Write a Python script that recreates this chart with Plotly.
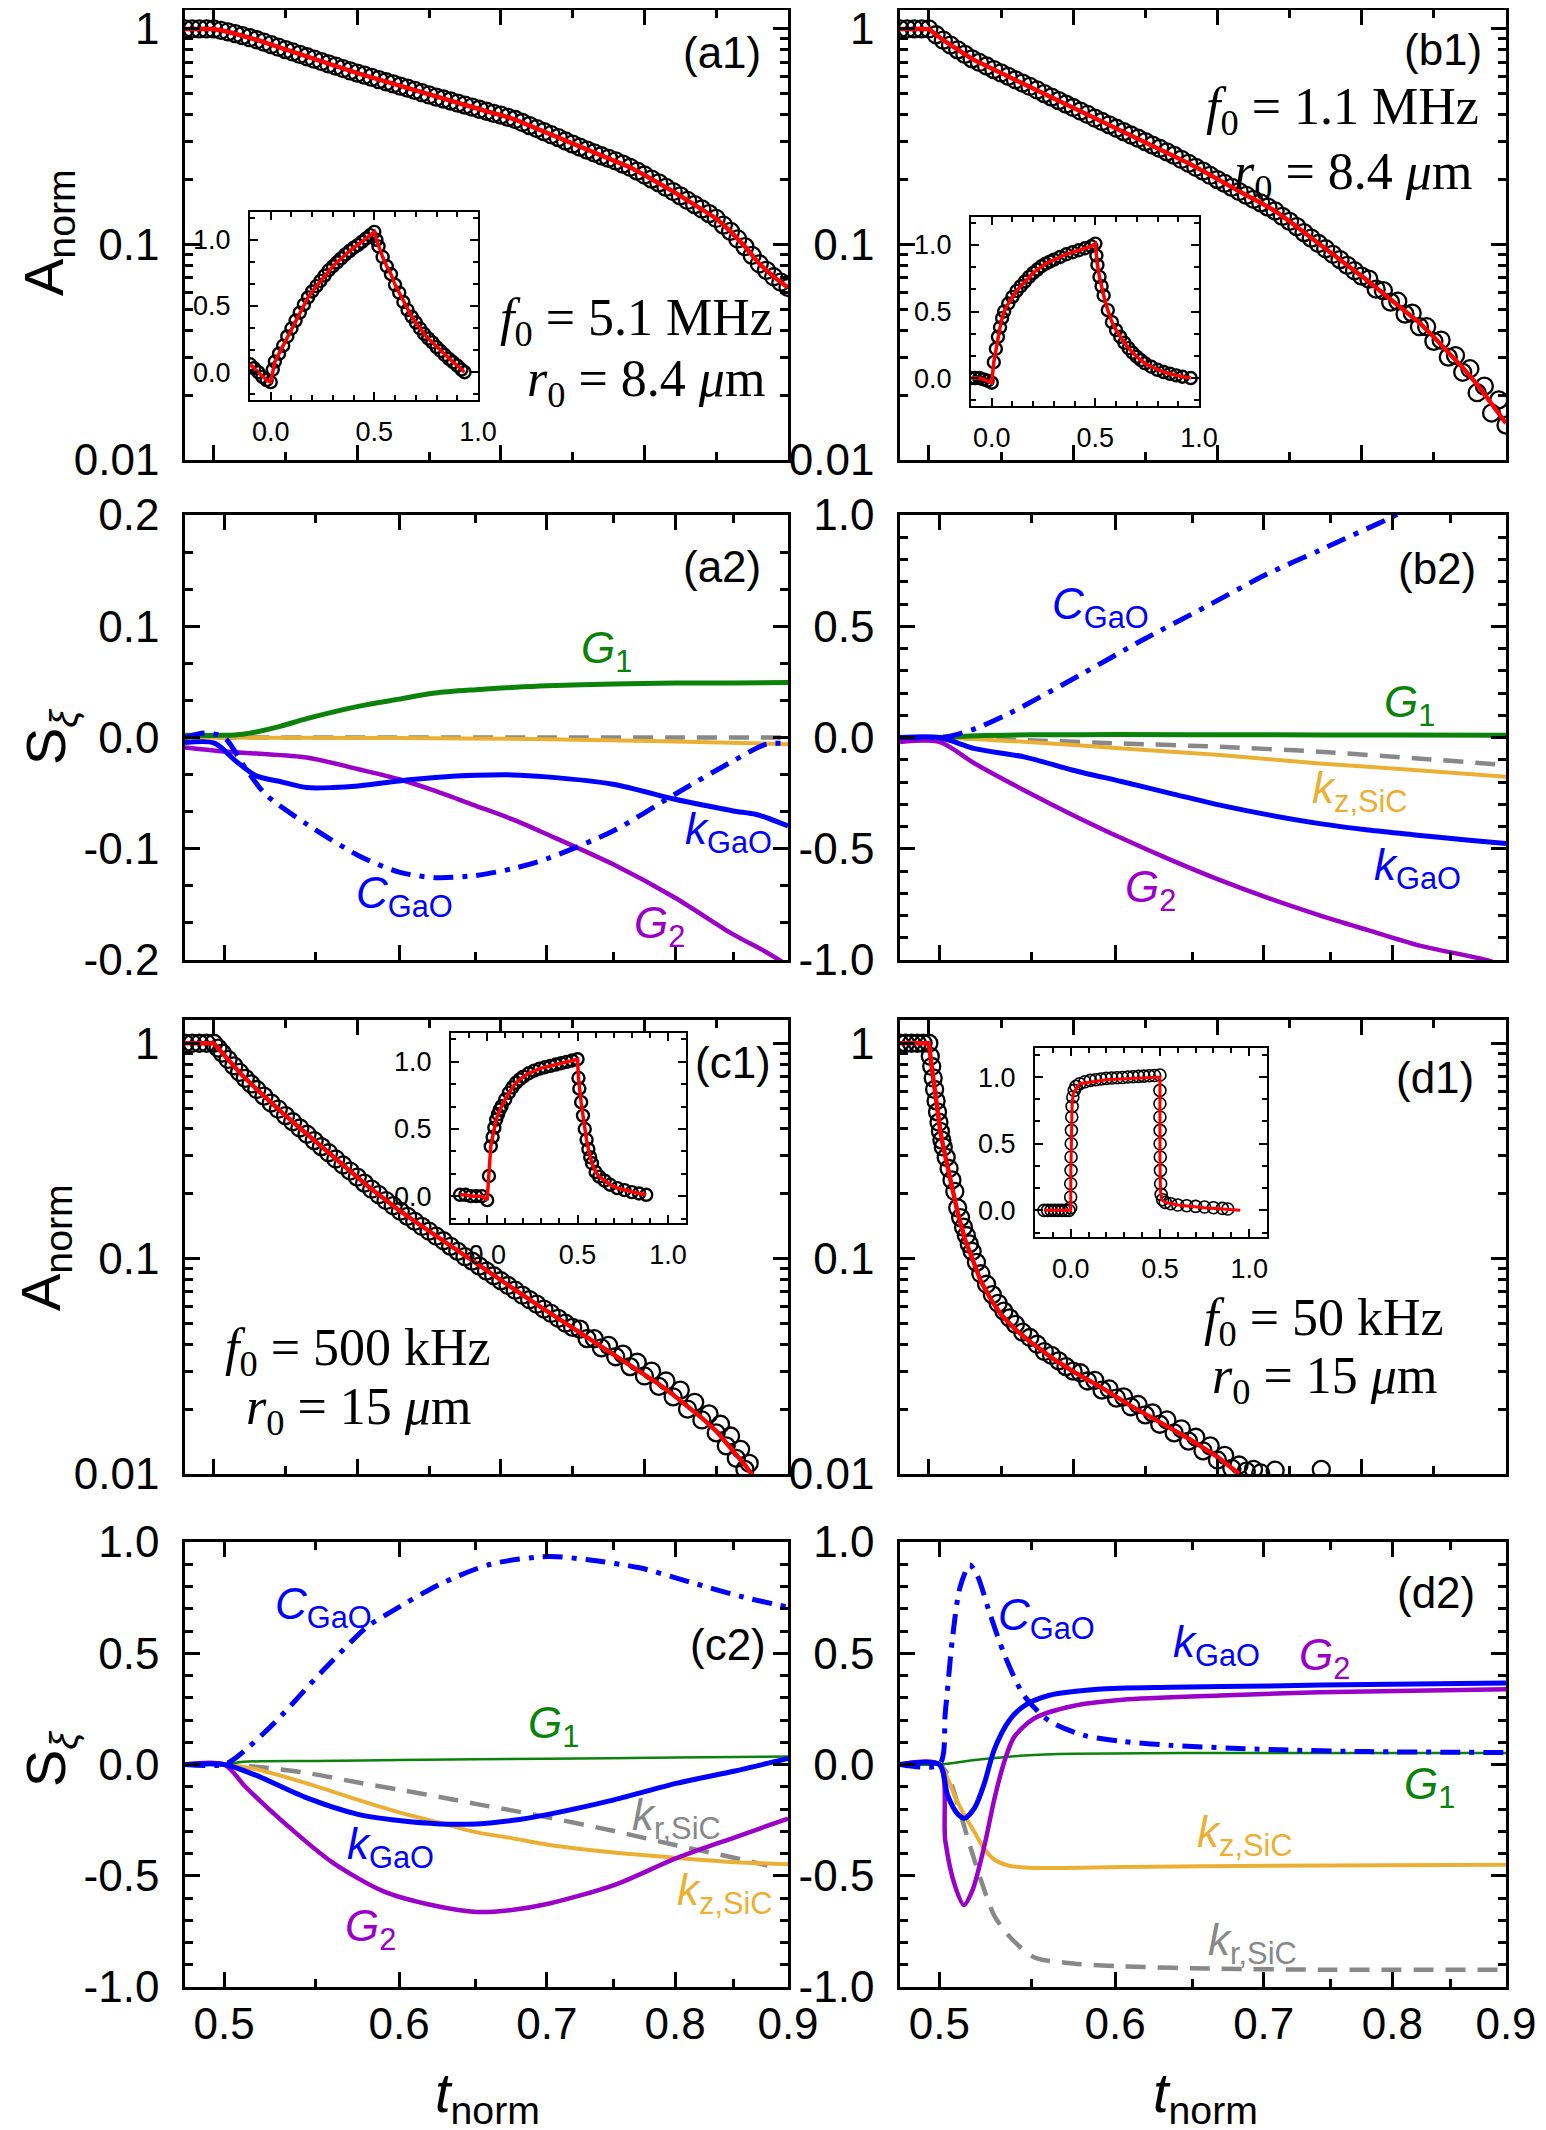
import math
import plotly.graph_objects as go

W, H = 1546, 2130
OFF = 8  # the page body adds an 8 px margin; positions are compensated for it
SANS = "Liberation Sans, Arial, sans-serif"
NARROW = "Liberation Sans Narrow, Liberation Sans, Arial, sans-serif"
SERIF = "Liberation Serif, Times New Roman, serif"

GREEN = "#0B830B"
BLUE = "#0000FF"
PURPLE = "#9A00C8"
YELLOW = "#EBB033"
GRAY = "#888888"
RED = "#FF0000"

# ------------------------------------------------------------------ data
t_fit = [0.48, 0.49, 0.50, 0.51, 0.52, 0.53, 0.54, 0.55, 0.56, 0.57, 0.58, 0.59, 0.60,
         0.61, 0.62, 0.63, 0.64, 0.65, 0.66, 0.67, 0.68, 0.69, 0.70, 0.71, 0.72, 0.73,
         0.74, 0.75, 0.76, 0.77, 0.78, 0.79, 0.80, 0.81, 0.82, 0.83, 0.84, 0.85, 0.86,
         0.87, 0.88, 0.89, 0.90]
t_dense = [0.480, 0.485, 0.490, 0.495, 0.500, 0.505, 0.510, 0.515, 0.520, 0.525, 0.530,
           0.535, 0.540, 0.545, 0.550, 0.555, 0.560, 0.565, 0.570, 0.575, 0.580, 0.585,
           0.590, 0.595, 0.600, 0.605, 0.610, 0.615, 0.620, 0.625, 0.630, 0.635, 0.640,
           0.645, 0.650, 0.655, 0.660, 0.665, 0.670, 0.675, 0.680, 0.685, 0.690, 0.695,
           0.700, 0.705, 0.710, 0.715, 0.720, 0.725, 0.730, 0.735, 0.740, 0.745, 0.750,
           0.755, 0.760, 0.765, 0.770, 0.775, 0.780, 0.785, 0.790, 0.795, 0.800, 0.805,
           0.810, 0.815, 0.820, 0.825, 0.830, 0.835, 0.840, 0.845, 0.850, 0.855, 0.860,
           0.865, 0.870, 0.875, 0.880, 0.885, 0.890, 0.895, 0.900]

# (a1) f0 = 5.1 MHz
a1_fit = [1.0, 1.0, 1.0, 0.970, 0.931, 0.891, 0.845, 0.802, 0.762, 0.724, 0.689, 0.655, 0.624,
          0.596, 0.569, 0.543, 0.519, 0.494, 0.473, 0.453, 0.434, 0.415, 0.398, 0.380, 0.356,
          0.334, 0.313, 0.292, 0.274, 0.258, 0.244, 0.228, 0.210, 0.193, 0.176, 0.160, 0.146,
          0.132, 0.115, 0.0977, 0.0813, 0.0708, 0.0631]
a1_data = [1.0, 1.0, 1.0, 1.0, 1.0, 0.986, 0.970, 0.951, 0.931, 0.911, 0.891, 0.868, 0.845,
           0.823, 0.802, 0.782, 0.762, 0.743, 0.724, 0.706, 0.689, 0.672, 0.655, 0.639, 0.624,
           0.610, 0.596, 0.582, 0.569, 0.556, 0.543, 0.531, 0.519, 0.506, 0.494, 0.483, 0.473,
           0.463, 0.453, 0.443, 0.434, 0.424, 0.415, 0.406, 0.398, 0.389, 0.380, 0.368, 0.356,
           0.345, 0.334, 0.323, 0.313, 0.302, 0.292, 0.283, 0.274, 0.266, 0.258, 0.251, 0.244,
           0.236, 0.228, 0.219, 0.210, 0.201, 0.193, 0.184, 0.176, 0.168, 0.160, 0.153, 0.146,
           0.139, 0.132, 0.123, 0.115, 0.106, 0.0977, 0.0890, 0.0813, 0.0758, 0.0708, 0.0668,
           0.0631]
# (b1) f0 = 1.1 MHz
b1_fit = [1.0, 1.0, 1.0, 0.887, 0.800, 0.726, 0.673, 0.625, 0.581, 0.541, 0.501, 0.465, 0.432,
          0.401, 0.372, 0.346, 0.322, 0.300, 0.279, 0.259, 0.238, 0.219, 0.200, 0.184, 0.169,
          0.156, 0.143, 0.128, 0.1135, 0.101, 0.090, 0.080, 0.0713, 0.0631, 0.0558, 0.0492,
          0.0433, 0.0372, 0.0316, 0.0268, 0.0224, 0.0182, 0.0148]
b1_data = [1.0, 1.0, 1.0, 1.0, 1.0, 0.94, 0.887, 0.842, 0.800, 0.762, 0.726, 0.699, 0.673,
           0.648, 0.625, 0.603, 0.581, 0.561, 0.541, 0.521, 0.501, 0.483, 0.465, 0.448, 0.432,
           0.416, 0.401, 0.386, 0.372, 0.359, 0.346, 0.334, 0.322, 0.311, 0.300, 0.289, 0.279,
           0.269, 0.259, 0.248, 0.238, 0.228, 0.219, 0.209, 0.200, 0.192, 0.184, 0.176, 0.169,
           0.162, 0.156, 0.149, 0.143, 0.135, 0.128, 0.121, 0.1135, 0.107, 0.101, 0.0955, 0.090,
           0.085, 0.080, 0.0755, 0.0713, 0.069, 0.062, 0.061, 0.054, 0.0545, 0.0475, 0.048,
           0.0415, 0.0415, 0.0355, 0.036, 0.030, 0.0305, 0.0255, 0.0265, 0.0205, 0.022, 0.0165,
           0.019, 0.0145]
# (c1) f0 = 500 kHz
c1_fit = [1.0, 1.0, 1.0, 0.841, 0.708, 0.610, 0.528, 0.461, 0.404, 0.353, 0.310, 0.272, 0.239,
          0.210, 0.186, 0.166, 0.149, 0.134, 0.121, 0.108, 0.0973, 0.0875, 0.0789, 0.0713,
          0.0644, 0.0583, 0.0528, 0.0479, 0.0432, 0.0391, 0.0355, 0.0322, 0.0291, 0.0261,
          0.0233, 0.0207, 0.0182, 0.0158, 0.0133, 0.0110, 0.0089, 0.0074, 0.0063]
c1_t = [0.480, 0.485, 0.490, 0.495, 0.500, 0.503, 0.506, 0.510, 0.514, 0.518, 0.522, 0.526,
        0.530, 0.535, 0.540, 0.545, 0.550, 0.555, 0.560, 0.565, 0.570, 0.575, 0.580, 0.585,
        0.590, 0.595, 0.600, 0.605, 0.610, 0.615, 0.620, 0.625, 0.630, 0.635, 0.640, 0.645,
        0.650, 0.655, 0.660, 0.665, 0.670, 0.675, 0.680, 0.685, 0.690, 0.695, 0.700, 0.705,
        0.710, 0.715, 0.720, 0.725, 0.730, 0.735, 0.740, 0.745, 0.750, 0.755, 0.760, 0.765,
        0.770, 0.775, 0.780, 0.785, 0.790, 0.795, 0.800, 0.805, 0.810, 0.815, 0.820, 0.825,
        0.830, 0.835, 0.840, 0.845, 0.850, 0.853, 0.857, 0.860, 0.864, 0.867, 0.870, 0.873]
c1_data = [1.0, 1.0, 1.0, 1.0, 1.0, 0.95, 0.90, 0.841, 0.785, 0.733, 0.687, 0.647, 0.610,
           0.568, 0.528, 0.494, 0.461, 0.432, 0.404, 0.378, 0.353, 0.331, 0.310, 0.290, 0.272,
           0.255, 0.239, 0.224, 0.210, 0.198, 0.186, 0.176, 0.166, 0.157, 0.149, 0.141, 0.134,
           0.127, 0.121, 0.114, 0.108, 0.102, 0.0973, 0.0923, 0.0875, 0.0832, 0.0789, 0.0750,
           0.0713, 0.0676, 0.0644, 0.0614, 0.0583, 0.0556, 0.0528, 0.0501, 0.0479, 0.0470,
           0.0425, 0.0425, 0.0385, 0.0395, 0.0350, 0.0360, 0.0315, 0.0330, 0.0285, 0.0300,
           0.0255, 0.0270, 0.0228, 0.0245, 0.0200, 0.0215, 0.0178, 0.0190, 0.0155, 0.0170,
           0.0135, 0.0150, 0.0118, 0.0130, 0.0105, 0.0112]
# (d1) f0 = 50 kHz
d1_fit_t = [0.48, 0.49, 0.50, 0.502, 0.504, 0.506, 0.508, 0.510, 0.513, 0.516, 0.520, 0.525,
            0.530, 0.536, 0.543, 0.550, 0.560, 0.570, 0.585, 0.600, 0.620, 0.640, 0.660, 0.680,
            0.700, 0.715]
d1_fit = [1.0, 1.0, 1.0, 0.776, 0.603, 0.474, 0.389, 0.330, 0.266, 0.219, 0.163, 0.123, 0.100,
          0.0785, 0.0646, 0.0550, 0.0468, 0.0412, 0.0347, 0.0299, 0.0251, 0.0207, 0.0174,
          0.0146, 0.0120, 0.0100]
d1_t = [0.480, 0.484, 0.488, 0.492, 0.496, 0.500, 0.501, 0.502, 0.503, 0.504, 0.505, 0.506,
        0.507, 0.508, 0.509, 0.510, 0.512, 0.514, 0.516, 0.518, 0.520, 0.522, 0.524, 0.526,
        0.528, 0.530, 0.533, 0.536, 0.540, 0.544, 0.548, 0.552, 0.556, 0.560, 0.565, 0.570,
        0.575, 0.580, 0.585, 0.590, 0.595, 0.600, 0.605, 0.610, 0.615, 0.620, 0.625, 0.630,
        0.635, 0.640, 0.645, 0.650, 0.655, 0.660, 0.665, 0.670, 0.675, 0.680, 0.685, 0.690,
        0.695, 0.700, 0.705, 0.710, 0.715, 0.720, 0.725, 0.730, 0.740, 0.772]
d1_data = [1.0, 1.0, 1.0, 1.0, 1.0, 1.0, 0.87, 0.78, 0.69, 0.61, 0.54, 0.48, 0.43, 0.39, 0.355,
           0.33, 0.295, 0.262, 0.232, 0.205, 0.172, 0.155, 0.140, 0.128, 0.117, 0.108, 0.096,
           0.085, 0.076, 0.068, 0.062, 0.057, 0.053, 0.0495, 0.0455, 0.043, 0.040, 0.037,
           0.0355, 0.0335, 0.0315, 0.030, 0.0295, 0.027, 0.0272, 0.0245, 0.0248, 0.0225,
           0.0228, 0.0205, 0.021, 0.0188, 0.0192, 0.0170, 0.0178, 0.0155, 0.0162, 0.0142,
           0.0148, 0.0128, 0.0135, 0.0116, 0.0122, 0.0106, 0.0110, 0.0103, 0.0105, 0.0101,
           0.0104, 0.0105]

# insets (full-period transients)
a1_in_x = [-0.10, -0.08, -0.06, -0.04, -0.02, 0.0, 0.01, 0.02, 0.04, 0.06, 0.08, 0.10, 0.12,
           0.14, 0.16, 0.18, 0.20, 0.22, 0.24, 0.26, 0.28, 0.30, 0.32, 0.34, 0.36, 0.38, 0.40,
           0.42, 0.44, 0.46, 0.48, 0.50, 0.51, 0.52, 0.54, 0.56, 0.58, 0.60, 0.62, 0.64, 0.66,
           0.68, 0.70, 0.72, 0.74, 0.76, 0.78, 0.80, 0.82, 0.84, 0.86, 0.88, 0.90, 0.92, 0.935]
a1_in_y = [0.06, 0.03, 0.0, -0.035, -0.06, -0.075, 0.02, 0.08, 0.14, 0.20, 0.27, 0.33, 0.39,
           0.45, 0.51, 0.565, 0.61, 0.65, 0.69, 0.73, 0.77, 0.80, 0.83, 0.86, 0.89, 0.915, 0.94,
           0.96, 0.985, 1.01, 1.035, 1.06, 1.0, 0.95, 0.87, 0.80, 0.74, 0.66, 0.60, 0.53, 0.47,
           0.42, 0.375, 0.33, 0.29, 0.255, 0.225, 0.19, 0.16, 0.13, 0.10, 0.075, 0.05, 0.02, 0.0]
b1_in_x = [-0.10, -0.08, -0.06, -0.04, -0.02, 0.0, 0.01, 0.02, 0.03, 0.04, 0.05, 0.06, 0.08,
           0.10, 0.12, 0.14, 0.16, 0.18, 0.20, 0.22, 0.24, 0.26, 0.28, 0.30, 0.33, 0.36, 0.39,
           0.42, 0.45, 0.48, 0.50, 0.505, 0.51, 0.52, 0.53, 0.54, 0.56, 0.58, 0.60, 0.62, 0.64,
           0.66, 0.68, 0.70, 0.72, 0.74, 0.77, 0.80, 0.83, 0.86, 0.89, 0.92, 0.96]
b1_in_y = [0.0, 0.0, 0.0, -0.01, -0.02, -0.035, 0.12, 0.22, 0.31, 0.38, 0.45, 0.50, 0.56, 0.61,
           0.655, 0.69, 0.725, 0.76, 0.79, 0.815, 0.84, 0.86, 0.875, 0.89, 0.91, 0.93, 0.945,
           0.96, 0.975, 0.99, 1.01, 0.92, 0.85, 0.76, 0.69, 0.62, 0.51, 0.42, 0.36, 0.31, 0.265,
           0.225, 0.19, 0.16, 0.135, 0.11, 0.085, 0.062, 0.045, 0.032, 0.02, 0.01, 0.0]
c1_in_x = [-0.15, -0.12, -0.09, -0.06, -0.03, 0.0, 0.01, 0.02, 0.03, 0.04, 0.05, 0.06, 0.07,
           0.08, 0.10, 0.12, 0.14, 0.16, 0.18, 0.20, 0.23, 0.26, 0.29, 0.32, 0.35, 0.38, 0.41,
           0.44, 0.47, 0.50, 0.505, 0.51, 0.52, 0.53, 0.54, 0.55, 0.56, 0.57, 0.58, 0.60, 0.62,
           0.65, 0.68, 0.72, 0.76, 0.80, 0.84, 0.88]
c1_in_y = [0.01, 0.01, 0.0, 0.0, 0.0, -0.03, 0.15, 0.37, 0.44, 0.51, 0.57, 0.61, 0.645, 0.67,
           0.72, 0.77, 0.81, 0.845, 0.87, 0.89, 0.915, 0.935, 0.95, 0.96, 0.97, 0.98, 0.99, 1.0,
           1.01, 1.02, 0.88, 0.80, 0.70, 0.60, 0.50, 0.42, 0.35, 0.29, 0.245, 0.18, 0.145,
           0.115, 0.085, 0.06, 0.045, 0.03, 0.02, 0.01]
d1_in_x = [-0.15, -0.13, -0.11, -0.09, -0.07, -0.05, -0.03, -0.01, 0.0, 0.0, 0.0, 0.002, 0.002,
           0.003, 0.004, 0.006, 0.008, 0.012, 0.02, 0.03, 0.05, 0.08, 0.11, 0.14, 0.17, 0.20,
           0.23, 0.26, 0.29, 0.32, 0.35, 0.38, 0.41, 0.44, 0.47, 0.50, 0.50, 0.50, 0.50, 0.501,
           0.501, 0.502, 0.503, 0.504, 0.507, 0.515, 0.53, 0.56, 0.60, 0.65, 0.70, 0.75, 0.80,
           0.85, 0.88]
d1_in_y = [0.0, 0.0, 0.0, 0.0, 0.0, 0.0, 0.0, 0.0, 0.02, 0.1, 0.2, 0.3, 0.4, 0.5, 0.6, 0.7,
           0.78, 0.85, 0.90, 0.93, 0.95, 0.965, 0.975, 0.98, 0.985, 0.99, 0.993, 0.995, 0.997,
           1.0, 1.002, 1.005, 1.007, 1.01, 1.012, 1.015, 0.9, 0.8, 0.7, 0.6, 0.5, 0.4, 0.3, 0.2,
           0.12, 0.08, 0.06, 0.05, 0.04, 0.035, 0.03, 0.025, 0.02, 0.015, 0.01]
d1_in_fit_x = [-0.15, 0.0, 0.001, 0.003, 0.008, 0.015, 0.05, 0.2, 0.5, 0.5, 0.503, 0.51, 0.53,
               0.6, 0.75, 0.95]
d1_in_fit_y = [0.0, 0.0, 0.3, 0.6, 0.8, 0.88, 0.95, 0.98, 1.0, 0.4, 0.15, 0.08, 0.06, 0.04,
               0.02, 0.0]

# sensitivities (a2)
a2 = {
    "G1": ([0.48, 0.50, 0.51, 0.517, 0.53, 0.545, 0.575, 0.60, 0.623, 0.65, 0.675, 0.70, 0.75,
            0.80, 0.85, 0.90],
           [0.002, 0.002, 0.003, 0.005, 0.010, 0.017, 0.028, 0.0345, 0.040, 0.043, 0.045,
            0.0465, 0.048, 0.049, 0.049, 0.0495]),
    "kz": ([0.48, 0.60, 0.70, 0.80, 0.90], [0.0, -0.0005, -0.0015, -0.0035, -0.006]),
    "kr": ([0.48, 0.60, 0.70, 0.80, 0.90], [0.0, 0.0, 0.0, 0.0, 0.0]),
    "G2": ([0.48, 0.50, 0.517, 0.545, 0.575, 0.60, 0.623, 0.65, 0.675, 0.70, 0.75, 0.80, 0.85,
            0.88, 0.90],
           [-0.009, -0.0126, -0.0144, -0.018, -0.0285, -0.0375, -0.048, -0.0614, -0.0734,
            -0.087, -0.114, -0.144, -0.177, -0.193, -0.205]),
    "kG": ([0.48, 0.495, 0.506, 0.517, 0.531, 0.545, 0.56, 0.575, 0.60, 0.623, 0.65, 0.675,
            0.70, 0.75, 0.80, 0.83, 0.85, 0.87, 0.88, 0.90],
           [-0.0045, -0.005, -0.021, -0.0345, -0.040, -0.045, -0.045, -0.0435, -0.039, -0.036,
            -0.034, -0.0336, -0.0354, -0.042, -0.0555, -0.062, -0.066, -0.069, -0.072, -0.0795]),
    "CG": ([0.48, 0.49, 0.50, 0.511, 0.522, 0.545, 0.575, 0.60, 0.623, 0.65, 0.675, 0.70, 0.75,
            0.80, 0.85, 0.88, 0.90],
           [0.0, 0.004, 0.0, -0.027, -0.051, -0.078, -0.106, -0.121, -0.126, -0.124, -0.118,
            -0.109, -0.084, -0.051, -0.021, -0.006, -0.0055]),
}
# sensitivities (b2)
b2 = {
    "CG": ([0.48, 0.50, 0.505, 0.519, 0.5376, 0.5803, 0.617, 0.659, 0.701, 0.742, 0.80, 0.81],
           [0.0, 0.0, 0.005, 0.04, 0.108, 0.288, 0.437, 0.587, 0.730, 0.842, 0.992, 1.02]),
    "G1": ([0.48, 0.50, 0.52, 0.55, 0.60, 0.70, 0.80, 0.90],
           [0.0, 0.0, 0.008, 0.012, 0.013, 0.012, 0.011, 0.010]),
    "kz": ([0.48, 0.50, 0.5459, 0.6046, 0.669, 0.7418, 0.821, 0.90],
           [0.0, 0.0, -0.0195, -0.049, -0.079, -0.117, -0.147, -0.177]),
    "kr": ([0.48, 0.50, 0.5459, 0.6046, 0.669, 0.7418, 0.821, 0.90],
           [0.0, 0.0, -0.012, -0.027, -0.042, -0.064, -0.094, -0.124]),
    "kG": ([0.48, 0.50, 0.5187, 0.5459, 0.5744, 0.6046, 0.636, 0.669, 0.7045, 0.7418, 0.780,
            0.821, 0.864, 0.90],
           [0.0, 0.0, -0.05, -0.087, -0.147, -0.199, -0.252, -0.304, -0.349, -0.387, -0.416,
            -0.439, -0.461, -0.476]),
    "G2": ([0.48, 0.50, 0.5187, 0.5459, 0.5744, 0.6046, 0.636, 0.669, 0.7045, 0.7418, 0.780,
            0.821, 0.8818, 0.90],
           [-0.02, -0.02, -0.117, -0.237, -0.349, -0.454, -0.551, -0.641, -0.724, -0.799,
            -0.866, -0.933, -1.0, -1.03]),
}
# sensitivities (c2)
c2 = {
    "CG": ([0.48, 0.50, 0.5085, 0.5278, 0.5537, 0.5811, 0.5936, 0.626, 0.660, 0.701, 0.7306,
            0.771, 0.813, 0.858, 0.90],
           [0.0, 0.0, 0.046, 0.195, 0.418, 0.623, 0.68, 0.81, 0.90, 0.935, 0.92, 0.884, 0.819,
            0.754, 0.707]),
    "G1": ([0.48, 0.50, 0.51, 0.55, 0.60, 0.70, 0.80, 0.90],
           [0.0, 0.0, 0.012, 0.016, 0.020, 0.026, 0.031, 0.036]),
    "kG": ([0.48, 0.50, 0.5167, 0.545, 0.5749, 0.60, 0.626, 0.6506, 0.6747, 0.701, 0.7507,
            0.8017, 0.8516, 0.90],
           [0.0, 0.0, -0.048, -0.15, -0.224, -0.252, -0.267, -0.267, -0.252, -0.224, -0.159,
            -0.084, -0.029, 0.027]),
    "kz": ([0.48, 0.50, 0.5167, 0.545, 0.5749, 0.60, 0.626, 0.6506, 0.6747, 0.701, 0.7507,
            0.8017, 0.8516, 0.90],
           [0.0, 0.0, -0.02, -0.085, -0.159, -0.215, -0.262, -0.305, -0.331, -0.361, -0.396,
            -0.42, -0.439, -0.448]),
    "kr": ([0.48, 0.50, 0.5167, 0.545, 0.5749, 0.60, 0.626, 0.6506, 0.6747, 0.701, 0.7507,
            0.8017, 0.8516, 0.881],
           [0.0, 0.0, -0.01, -0.038, -0.081, -0.113, -0.146, -0.178, -0.206, -0.238, -0.299,
            -0.364, -0.42, -0.454]),
    "G2": ([0.48, 0.50, 0.5112, 0.5306, 0.5597, 0.5904, 0.623, 0.6506, 0.6747, 0.701, 0.7507,
            0.8017, 0.8516, 0.90],
           [0.0, 0.0, -0.10, -0.25, -0.44, -0.57, -0.635, -0.663, -0.654, -0.626, -0.542,
            -0.42, -0.327, -0.243]),
}
# sensitivities (d2)
d2 = {
    "CG": ([0.48, 0.50, 0.5031, 0.5069, 0.5108, 0.516, 0.52, 0.5267, 0.5348, 0.5459, 0.560,
            0.5803, 0.6046, 0.636, 0.7045, 0.78, 0.90],
           [0.0, 0.0, 0.235, 0.571, 0.795, 0.897, 0.851, 0.683, 0.496, 0.31, 0.198, 0.132,
            0.104, 0.086, 0.067, 0.058, 0.054]),
    "kG": ([0.48, 0.50, 0.5043, 0.5096, 0.5134, 0.5187, 0.524, 0.5293, 0.5376, 0.5459, 0.560,
            0.5893, 0.636, 0.7045, 0.78, 0.90],
           [0.0, 0.0, -0.138, -0.222, -0.241, -0.194, -0.082, 0.067, 0.198, 0.263, 0.31, 0.338,
            0.347, 0.353, 0.36, 0.366]),
    "G2": ([0.48, 0.50, 0.5031, 0.5083, 0.5129, 0.5174, 0.524, 0.5293, 0.5348, 0.5403, 0.5516,
            0.5744, 0.6046, 0.669, 0.7418, 0.90],
           [0.0, 0.0, -0.343, -0.549, -0.632, -0.567, -0.362, -0.157, 0.011, 0.123, 0.207,
            0.263, 0.291, 0.31, 0.325, 0.338]),
    "G1": ([0.48, 0.50, 0.5187, 0.5459, 0.5744, 0.7045, 0.90],
           [0.0, 0.0, 0.02, 0.04, 0.048, 0.052, 0.052]),
    "kz": ([0.48, 0.50, 0.5043, 0.5083, 0.5134, 0.5187, 0.524, 0.5293, 0.5376, 0.5516, 0.6046,
            0.7045, 0.90],
           [0.0, 0.0, -0.063, -0.147, -0.231, -0.306, -0.381, -0.427, -0.455, -0.465, -0.461,
            -0.455, -0.451]),
    "kr": ([0.48, 0.50, 0.5043, 0.5108, 0.516, 0.524, 0.5293, 0.5376, 0.5516, 0.5744, 0.6046,
            0.669, 0.7418, 0.90],
           [0.0, 0.0, -0.045, -0.213, -0.362, -0.567, -0.679, -0.772, -0.866, -0.894, -0.907,
            -0.918, -0.922, -0.922]),
}

t_ticks = [0.5, 0.6, 0.7, 0.8, 0.9]
t_minor = [0.55, 0.65, 0.75, 0.85]

# ------------------------------------------------------------------ layout boxes (px on screen)
LEFT = (185, 788)
RIGHT = (900, 1506)
ROWS = [(10, 460), (515, 960), (1020, 1474), (1542, 1987)]
INSETS = {9: ((250, 478), (212, 400)), 10: ((971, 1199), (217, 406)),
          11: ((451, 686), (1033, 1223)), 12: ((1035, 1267), (1048, 1237))}
A_TOP = {0: 0.088, 2: 0.108}   # log10 of the top of the amplitude axes


def dx(px):
    return [(px[0] - OFF) / W, (px[1] - OFF) / W]


def dy(py):
    return [max(0.0, 1 - (py[1] - OFF) / H), min(1.0, 1 - (py[0] - OFF) / H)]


fig = go.Figure()


def main_axis(**kw):
    d = dict(showline=True, linecolor="black", linewidth=2.5, mirror="ticks",
             ticks="inside", ticklen=15, tickwidth=2.5, tickcolor="black",
             showgrid=False, zeroline=False, ticklabelstandoff=14, automargin=False,
             ticklabeloverflow="allow",
             tickfont=dict(family=SANS, size=44, color="black"))
    d.update(kw)
    return d


def minor(vals, ln=8, w=2.5):
    return dict(ticks="inside", ticklen=ln, tickwidth=w, tickcolor="black",
                tickmode="array", tickvals=vals, showgrid=False)


log_minor = [k * 10 ** e for e in (-2, -1, 0) for k in range(2, 10) if k * 10 ** e < 1.3]
lin_minor_fine = [i / 10 for i in range(-10, 11) if i % 5 != 0]
lin_minor_a2 = [i / 30 for i in range(-6, 7) if i % 3 != 0]

layout = dict(width=W, height=H, autosize=False,
              margin=dict(l=0, r=0, t=0, b=0, pad=0, autoexpand=False),
              paper_bgcolor="white", plot_bgcolor="white", showlegend=False)

# axes 1..8 : a1 b1 a2 b2 c1 d1 c2 d2
panel_cols = [LEFT, RIGHT, LEFT, RIGHT, LEFT, RIGHT, LEFT, RIGHT]
panel_rows = [0, 0, 1, 1, 2, 2, 3, 3]
for i in range(8):
    n = i + 1
    xs = "xaxis" if n == 1 else f"xaxis{n}"
    ys = "yaxis" if n == 1 else f"yaxis{n}"
    row = panel_rows[i]
    anchor_y = "y" if n == 1 else f"y{n}"
    anchor_x = "x" if n == 1 else f"x{n}"
    if row in (0, 2):
        layout[xs] = main_axis(domain=dx(panel_cols[i]), anchor=anchor_y, range=[0.48, 0.9],
                               tickmode="array", tickvals=t_ticks, showticklabels=False,
                               minor=minor(t_minor))
        layout[ys] = main_axis(domain=dy(ROWS[row]), anchor=anchor_x, type="log",
                               range=[-2.0005, A_TOP[row]], tickmode="array",
                               tickvals=[0.01, 0.1, 1], ticktext=["0.01", "0.1", "1"],
                               minor=minor(log_minor))
    else:
        bottom = row == 3
        layout[xs] = main_axis(domain=dx(panel_cols[i]), anchor=anchor_y, type="log",
                               range=[math.log10(0.48), math.log10(0.9)],
                               tickmode="array", tickvals=t_ticks,
                               ticktext=["0.5", "0.6", "0.7", "0.8", "0.9"],
                               showticklabels=bottom, ticklabelstandoff=-4,
                               minor=minor(t_minor))
        if n == 3:
            layout[ys] = main_axis(domain=dy(ROWS[1]), anchor=anchor_x, range=[-0.2, 0.2],
                                   tickmode="array", tickvals=[-0.2, -0.1, 0, 0.1, 0.2],
                                   ticktext=["-0.2", "-0.1", "0.0", "0.1", "0.2"],
                                   minor=minor(lin_minor_a2))
        else:
            layout[ys] = main_axis(domain=dy(ROWS[row]), anchor=anchor_x,
                                   range=[-1.0, 1.0], tickmode="array",
                                   tickvals=[-1, -0.5, 0, 0.5, 1],
                                   ticktext=["-1.0", "-0.5", "0.0", "0.5", "1.0"],
                                   minor=minor(lin_minor_fine))

inset_ranges = {9: ([-0.1, 1.0], [-0.21, 1.21]), 10: ([-0.1, 1.0], [-0.21, 1.21]),
                11: ([-0.2, 1.1], [-0.2, 1.215]), 12: ([-0.2, 1.1], [-0.2, 1.218])}
for n, (bx, by) in INSETS.items():
    xr, yr = inset_ranges[n]
    common = dict(showline=True, linecolor="black", linewidth=2, mirror="ticks",
                  ticks="inside", ticklen=8, tickwidth=2, tickcolor="black",
                  showgrid=False, zeroline=False, automargin=False,
                  ticklabeloverflow="allow",
                  tickfont=dict(family=NARROW, size=27, color="black"))
    xm = [i / 10 for i in range(-2, 12) if i % 5 != 0 and xr[0] < i / 10 < xr[1]]
    ym = [i / 6 for i in range(-2, 8) if i % 3 != 0 and yr[0] < i / 6 < yr[1]]
    layout[f"xaxis{n}"] = dict(common, domain=dx(bx), anchor=f"y{n}", range=xr,
                               tickmode="array", tickvals=[0, 0.5, 1.0],
                               ticktext=["0.0", "0.5", "1.0"], ticklabelstandoff=7,
                               minor=minor(xm, 5, 2))
    layout[f"yaxis{n}"] = dict(common, domain=dy(by), anchor=f"x{n}", range=yr,
                               tickmode="array", tickvals=[0, 0.5, 1.0],
                               ticktext=["0.0", "0.5", "1.0"], ticklabelstandoff=12,
                               minor=minor(ym, 5, 2))


def ref(n):
    return ("x", "y") if n == 1 else (f"x{n}", f"y{n}")


def add_data(n, x, y, size=17, lw=2.3):
    xa, ya = ref(n)
    fig.add_trace(go.Scatter(x=x, y=y, mode="markers", xaxis=xa, yaxis=ya,
                             marker=dict(symbol="circle-open", size=size, color="black",
                                         line=dict(width=lw, color="black"))))


def add_fit(n, x, y, w=4.5):
    xa, ya = ref(n)
    fig.add_trace(go.Scatter(x=x, y=y, mode="lines", xaxis=xa, yaxis=ya,
                             line=dict(color=RED, width=w)))


# amplitude panels
add_data(1, t_dense, a1_data)
add_fit(1, t_fit, a1_fit)
add_data(2, t_dense, b1_data)
add_fit(2, t_fit, b1_fit)
add_data(5, c1_t, c1_data)
add_fit(5, t_fit, c1_fit)
add_data(6, d1_t, d1_data)
add_fit(6, d1_fit_t, d1_fit)

# insets
add_data(9, a1_in_x, a1_in_y, 12, 2.4)
add_fit(9, a1_in_x, a1_in_y, 3.5)
add_data(10, b1_in_x, b1_in_y, 12, 2.4)
add_fit(10, b1_in_x, b1_in_y, 3.5)
add_data(11, c1_in_x, c1_in_y, 12, 2.4)
add_fit(11, c1_in_x, c1_in_y, 3.5)
add_data(12, d1_in_x, d1_in_y, 12, 1.6)
add_fit(12, d1_in_fit_x, d1_in_fit_y, 3)

# sensitivity panels
STY = {
    "kr": dict(color=GRAY, width=4.5, dash="20px,12px"),
    "kz": dict(color=YELLOW, width=4),
    "G1": dict(color=GREEN, width=5),
    "G2": dict(color=PURPLE, width=4.5),
    "kG": dict(color=BLUE, width=5),
    "CG": dict(color=BLUE, width=5, dash="20px,9px,5px,9px"),
}
for n, curves, thin_g1 in ((3, a2, False), (4, b2, False), (7, c2, True), (8, d2, True)):
    xa, ya = ref(n)
    for key in ("kr", "kz", "G1", "G2", "kG", "CG"):
        if key not in curves:
            continue
        x, y = curves[key]
        st = dict(STY[key])
        if key == "G1" and thin_g1:
            st["width"] = 2.5
        fig.add_trace(go.Scatter(x=x, y=y, mode="lines", xaxis=xa, yaxis=ya,
                                 line=dict(shape="spline", smoothing=0.8, **st)))

# ------------------------------------------------------------------ annotations
ann = []


def txt(px, py, text, size=44, color="black", family=SANS, angle=0):
    ann.append(dict(x=(px - OFF) / W, y=1 - (py - OFF) / H, xref="paper", yref="paper",
                    text=text, showarrow=False, xanchor="center", yanchor="middle",
                    textangle=angle, font=dict(family=family, size=size, color=color)))


for (px, py, s) in [(722, 52, "(a1)"), (1443, 50, "(b1)"), (722, 566, "(a2)"),
                    (1437, 568, "(b2)"), (733, 1063, "(c1)"), (1435, 1077, "(d1)"),
                    (728, 1644, "(c2)"), (1436, 1592, "(d2)")]:
    txt(px, py, s)

F0 = "<i>f</i><sub>0</sub> = "
R0 = "<i>r</i><sub>0</sub> = "
for (px, py, s) in [(636, 322, F0 + "5.1 MHz"), (646, 382, R0 + "8.4 <i>μ</i>m"),
                    (1342, 110, F0 + "1.1 MHz"), (1353, 175, R0 + "8.4 <i>μ</i>m"),
                    (358, 1351, F0 + "500 kHz"), (358, 1410, R0 + "15 <i>μ</i>m"),
                    (1324, 1321, F0 + "50 kHz"), (1324, 1379, R0 + "15 <i>μ</i>m")]:
    txt(px, py, s, size=52, family=SERIF)

G1 = "<i>G</i><sub>1</sub>"
G2 = "<i>G</i><sub>2</sub>"
KG = "<i>k</i><sub>GaO</sub>"
CG = "<i>C</i><sub>GaO</sub>"
KZ = "<i>k</i><sub>z,SiC</sub>"
KR = "<i>k</i><sub>r,SiC</sub>"
labels = [
    (606, 651, G1, GREEN), (728, 832, KG, BLUE), (405, 896, CG, BLUE), (659, 926, G2, PURPLE),
    (1100, 607, CG, BLUE), (1409, 705, G1, GREEN), (1360, 791, KZ, YELLOW),
    (1417, 868, KG, BLUE), (1150, 890, G2, PURPLE),
    (323, 1607, CG, BLUE), (553, 1726, G1, GREEN), (676, 1818, KR, GRAY),
    (390, 1847, KG, BLUE), (725, 1893, KZ, YELLOW), (370, 1929, G2, PURPLE),
    (1046, 1618, CG, BLUE), (1216, 1645, KG, BLUE), (1324, 1658, G2, PURPLE),
    (1429, 1787, G1, GREEN), (1245, 1835, KZ, YELLOW), (1252, 1943, KR, GRAY),
]
for px, py, s, c in labels:
    txt(px, py, s, size=44, color=c)

# axis titles
txt(48, 233, "A<sub>norm</sub>", size=56, angle=-90)
txt(44, 1248, "A<sub>norm</sub>", size=56, angle=-90)
txt(49, 737, "S<sub><i>ξ</i></sub>", size=56, angle=-90)
txt(49, 1759, "S<sub><i>ξ</i></sub>", size=56, angle=-90)
txt(487, 2096, "<i>t</i><sub>norm</sub>", size=56)
txt(1205, 2096, "<i>t</i><sub>norm</sub>", size=56)

layout["annotations"] = ann
fig.update_layout(**layout)
fig.write_html("out.html")
